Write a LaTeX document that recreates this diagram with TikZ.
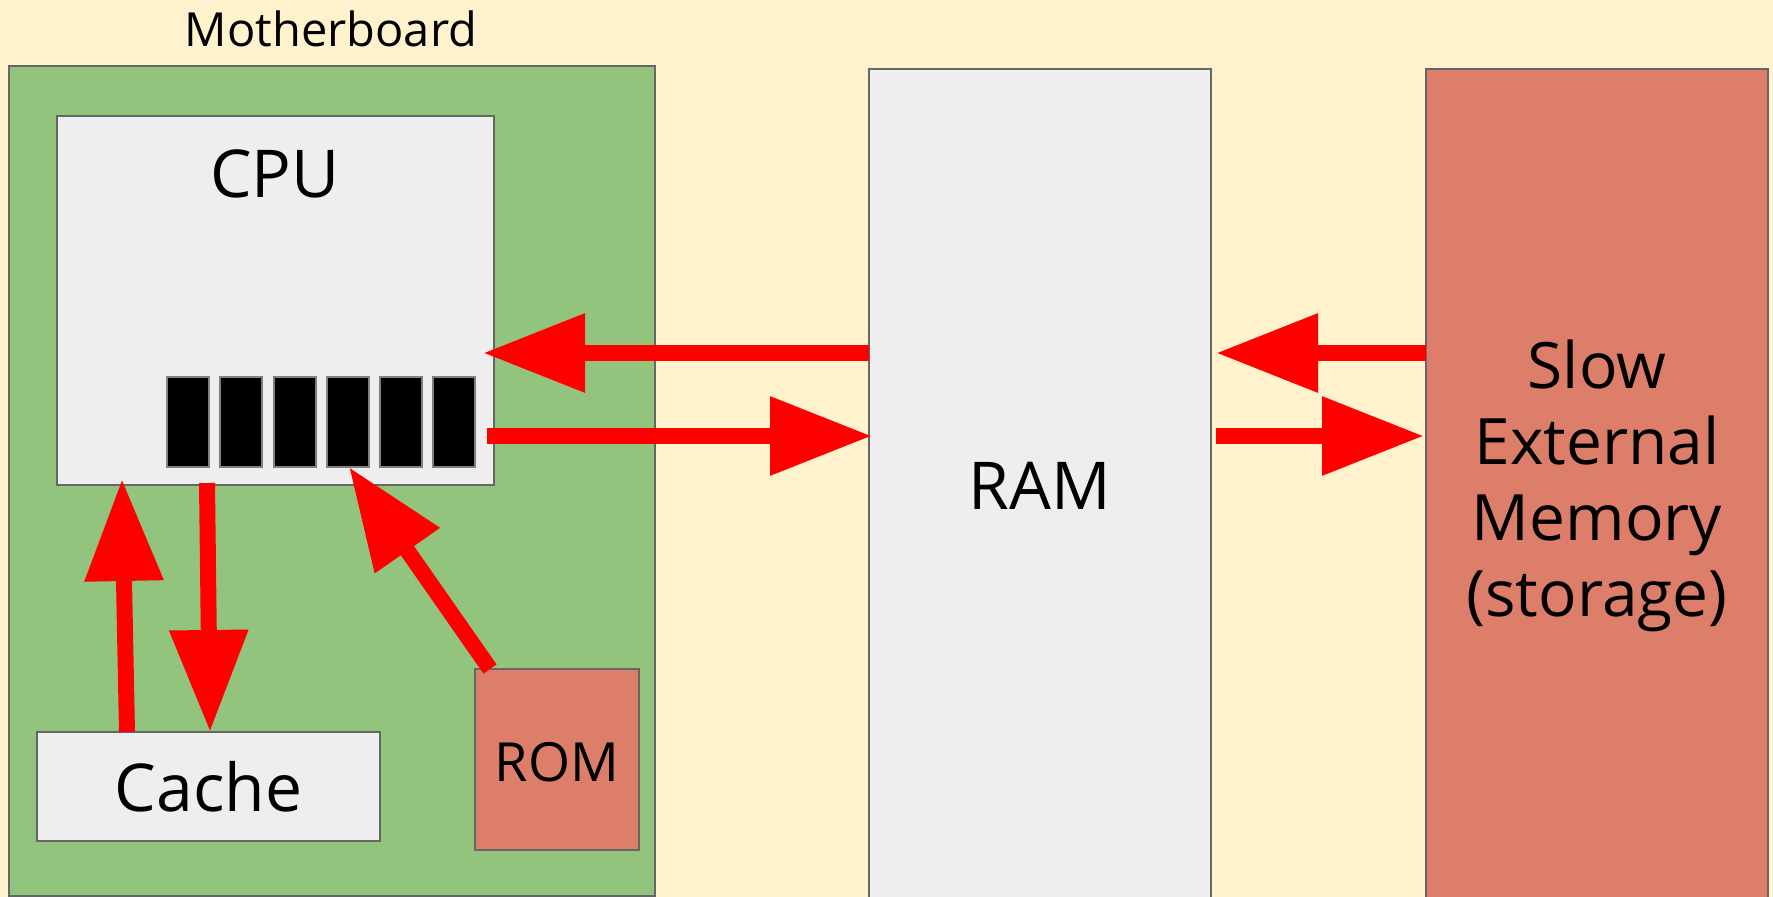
\documentclass[tikz,border=0pt]{standalone}
\usepackage{fontspec}
\setmainfont{Open Sans}
\usetikzlibrary{arrows.meta,fit}
\definecolor{bg}{HTML}{FFF2CC}
\definecolor{mbgreen}{HTML}{93C47D}
\definecolor{boxgray}{HTML}{EEEEEE}
\definecolor{salmon}{HTML}{DD7E6B}
\definecolor{edge}{HTML}{666666}
\definecolor{arrred}{HTML}{FF0000}
\tikzset{
  box/.style={draw=edge, line width=1pt, inner sep=0pt},
  reg/.style={box, fill=black, draw=gray},
  arr/.style={draw=arrred, line width=8pt, -{Triangle[length=51pt,width=37.5pt]}},
  lbl/.style={inner sep=0pt, text=black}
}
\begin{document}
\begin{tikzpicture}[x=0.5pt,y=-0.5pt]
\fill[bg] (0,0) rectangle (1773,897);
\useasboundingbox (0,0) rectangle (1773,897);
% boxes
\node[box, fill=mbgreen, fit={(9,66)(655,896)}] (mb) {};
\node[box, fill=boxgray, fit={(57,116)(494,485)}] (cpu) {};
\node[box, fill=boxgray, fit={(37,732)(380,841)}] (cache) {};
\node[box, fill=salmon, fit={(475,669)(639,850)}] (rom) {};
\node[box, fill=boxgray, fit={(869,69)(1211,900)}] (ram) {};
\node[box, fill=salmon, fit={(1426,69)(1768,900)}] (ext) {};
% registers
\foreach \i/\x in {1/167,2/220,3/274,4/327,5/380,6/433}{
  \node[reg, fit={(\x,377)(\x+42,467)}] (r\i) {};
}
% labels
\node[lbl, font=\fontsize{23.5}{28}\selectfont] (mbl) at (331,29) {Motherboard};
\node[lbl, font=\fontsize{33}{40}\selectfont] (cpul) at (275,174) {CPU};
\node[lbl, font=\fontsize{33}{40}\selectfont] (cachel) at (cache.center) {Cache};
\node[lbl, font=\fontsize{27}{32}\selectfont] (roml) at (557,762) {ROM};
\node[lbl, font=\fontsize{33}{40}\selectfont] (raml) at (1040,486) {RAM};
\node[lbl, font=\fontsize{32}{38}\selectfont, align=center] (extl) at (1597,486) {Slow\\External\\Memory\\(storage)};
% arrow end points
\coordinate (ramL1) at (869,353);
\coordinate (cpuR1) at (483,353);
\coordinate (cpuR2) at (487,436);
\coordinate (ramL2) at (872,436);
\coordinate (extL1) at (1426,353);
\coordinate (ramR1) at (1216,353);
\coordinate (ramR2) at (1216,436);
\coordinate (extL2) at (1424,436);
\coordinate (cacheT1) at (127,732);
\coordinate (cpuB1) at (122,479);
\coordinate (cpuB2) at (207,483);
\coordinate (cacheT2) at (210,732);
\coordinate (romT) at (490,669);
\coordinate (regB) at (349,467);
% arrows
\draw[arr] (ramL1) -- (cpuR1);
\draw[arr] (cpuR2) -- (ramL2);
\draw[arr] (extL1) -- (ramR1);
\draw[arr] (ramR2) -- (extL2);
\draw[arr] (cacheT1) -- (cpuB1);
\draw[arr] (cpuB2) -- (cacheT2);
\draw[arr] (romT) -- (regB);
\end{tikzpicture}
\end{document}
